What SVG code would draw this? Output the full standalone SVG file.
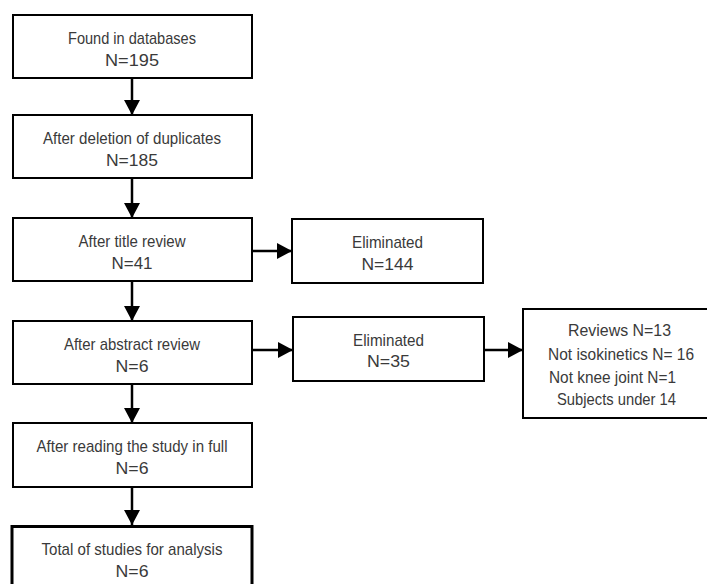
<svg xmlns="http://www.w3.org/2000/svg" width="707" height="584" viewBox="0 0 707 584">
<defs>
<marker id="ah" markerUnits="userSpaceOnUse" viewBox="0 0 15 16" markerWidth="15" markerHeight="16" refX="15" refY="8" orient="auto">
<polygon points="0,0 15,8 0,16" fill="#000"/>
</marker>
<style>
.box{fill:#fff;stroke:#000;stroke-width:2}
.bold{stroke-width:3}
.t{font-family:"Liberation Sans",Arial,sans-serif;font-size:17px;fill:#3a3a3a;text-anchor:middle}
.c{stroke:#000;stroke-width:2.5;fill:none;marker-end:url(#ah)}
</style>
</defs>
<rect width="707" height="584" fill="#fff"/>
<g id="connectors">
<line class="c" x1="132" y1="78" x2="132" y2="115"/>
<line class="c" x1="132" y1="178" x2="132" y2="218"/>
<line class="c" x1="132" y1="281" x2="132" y2="321"/>
<line class="c" x1="132" y1="384" x2="132" y2="423"/>
<line class="c" x1="132" y1="487" x2="132" y2="525"/>
<line class="c" x1="252" y1="251" x2="292" y2="251"/>
<line class="c" x1="252" y1="350" x2="293" y2="350"/>
<line class="c" x1="484" y1="350" x2="523" y2="350"/>
</g>
<g id="n1">
<rect class="box" x="13" y="15" width="239" height="63"/>
<text class="t" x="132" y="44" textLength="128" lengthAdjust="spacingAndGlyphs">Found in databases</text>
<text class="t" x="132" y="66" textLength="54" lengthAdjust="spacingAndGlyphs">N=195</text>
</g>
<g id="n2">
<rect class="box" x="13" y="115" width="239" height="63"/>
<text class="t" x="132" y="144" textLength="178" lengthAdjust="spacingAndGlyphs">After deletion of duplicates</text>
<text class="t" x="132" y="166" textLength="52" lengthAdjust="spacingAndGlyphs">N=185</text>
</g>
<g id="n3">
<rect class="box" x="13" y="218" width="239" height="63"/>
<text class="t" x="132" y="247" textLength="107" lengthAdjust="spacingAndGlyphs">After title review</text>
<text class="t" x="132" y="269" textLength="41" lengthAdjust="spacingAndGlyphs">N=41</text>
</g>
<g id="n4">
<rect class="box" x="13" y="321" width="239" height="63"/>
<text class="t" x="132" y="350" textLength="136" lengthAdjust="spacingAndGlyphs">After abstract review</text>
<text class="t" x="132" y="372" textLength="33" lengthAdjust="spacingAndGlyphs">N=6</text>
</g>
<g id="n5">
<rect class="box" x="13" y="423" width="239" height="64"/>
<text class="t" x="132" y="452" textLength="191" lengthAdjust="spacingAndGlyphs">After reading the study in full</text>
<text class="t" x="132" y="474" textLength="33" lengthAdjust="spacingAndGlyphs">N=6</text>
</g>
<g id="n6">
<rect class="box bold" x="12" y="526.5" width="240" height="70"/>
<text class="t" x="132" y="555" textLength="181" lengthAdjust="spacingAndGlyphs">Total of studies for analysis</text>
<text class="t" x="132" y="577" textLength="33" lengthAdjust="spacingAndGlyphs">N=6</text>
</g>
<g id="e1">
<rect class="box" x="292" y="219" width="191" height="64"/>
<text class="t" x="387.5" y="248" textLength="71" lengthAdjust="spacingAndGlyphs">Eliminated</text>
<text class="t" x="387.5" y="270" textLength="52" lengthAdjust="spacingAndGlyphs">N=144</text>
</g>
<g id="e2">
<rect class="box" x="293" y="317" width="191" height="64"/>
<text class="t" x="388.5" y="346" textLength="71" lengthAdjust="spacingAndGlyphs">Eliminated</text>
<text class="t" x="388.5" y="367" textLength="43" lengthAdjust="spacingAndGlyphs">N=35</text>
</g>
<g id="e3">
<rect class="box" x="523" y="309" width="220" height="109"/>
<text class="t" x="619.5" y="336" textLength="103" lengthAdjust="spacingAndGlyphs">Reviews N=13</text>
<text class="t" x="621" y="360" textLength="146" lengthAdjust="spacingAndGlyphs">Not isokinetics N= 16</text>
<text class="t" x="612.5" y="383" textLength="127" lengthAdjust="spacingAndGlyphs">Not knee joint N=1</text>
<text class="t" x="616.5" y="405" textLength="119" lengthAdjust="spacingAndGlyphs">Subjects under 14</text>
</g>
</svg>
